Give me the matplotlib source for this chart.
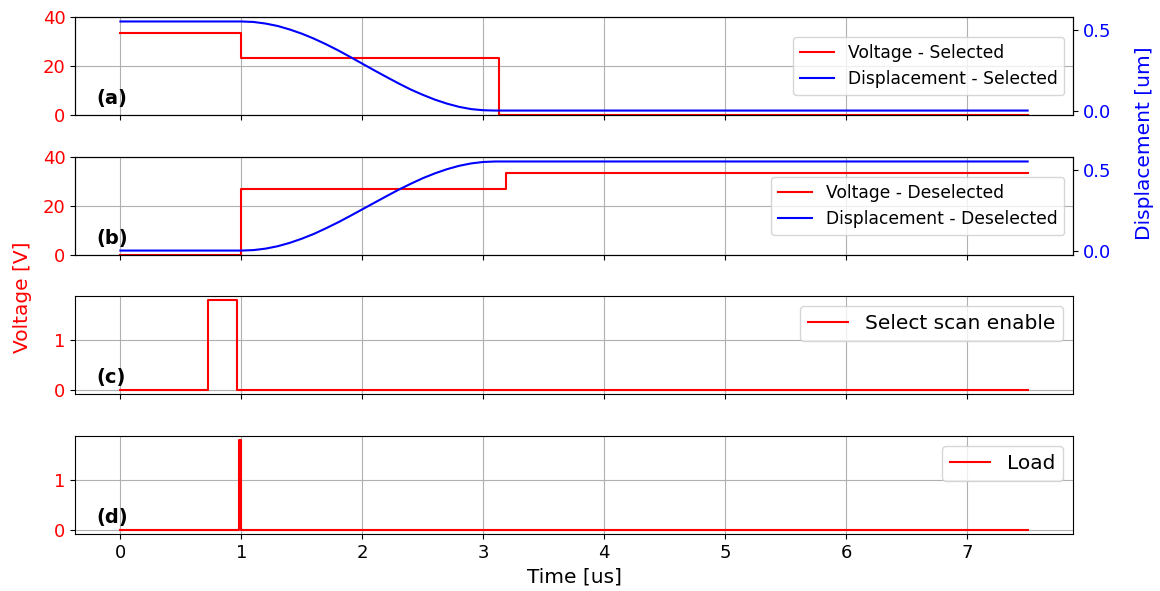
import matplotlib
matplotlib.use("Agg")
import matplotlib.pyplot as plt
from matplotlib.ticker import MultipleLocator

# ---- data -------------------------------------------------------------
# step-wise drive voltages (value holds until the next time point)
t_v_sel = [0.0, 1.0, 3.13, 7.5]
v_sel = [33.5, 23.3, 0.0, 0.0]

t_v_desel = [0.0, 1.0, 3.19, 7.5]
v_desel = [0.0, 27.0, 33.5, 33.5]

t_scan = [0.0, 0.72, 0.96, 7.5]
v_scan = [0.0, 1.8, 0.0, 0.0]

t_load = [0.0, 0.98, 1.0, 7.5]
v_load = [0.0, 1.8, 0.0, 0.0]

# mechanical displacement of the selected / deselected element [um]
t_disp = [0.0, 1.0, 1.1, 1.2, 1.3, 1.4, 1.5, 1.6, 1.7, 1.8, 1.9, 2.0,
          2.1, 2.2, 2.3, 2.4, 2.5, 2.6, 2.7, 2.8, 2.9, 3.0, 3.1, 7.5]
d_sel = [0.555, 0.555, 0.552, 0.542, 0.527, 0.505, 0.479, 0.448, 0.413,
         0.375, 0.334, 0.292, 0.250, 0.209, 0.169, 0.131, 0.098, 0.068,
         0.043, 0.023, 0.009, 0.002, 0.000, 0.000]
d_desel = [0.000, 0.000, 0.003, 0.012, 0.027, 0.048, 0.074, 0.104, 0.139,
           0.176, 0.216, 0.257, 0.298, 0.339, 0.379, 0.416, 0.451, 0.481,
           0.507, 0.528, 0.543, 0.552, 0.555, 0.555]

panel_tags = ["(a)", "(b)", "(c)", "(d)"]

# ---- figure -------------------------------------------------------------
fig = plt.figure(figsize=(11.6, 5.91), dpi=100)

left, width, height = 0.0647, 0.8603, 0.1658
bottoms = [0.8054, 0.5685, 0.3333, 0.0964]
axes = []
for i, b in enumerate(bottoms):
    ax = fig.add_axes([left, b, width, height],
                      sharex=axes[0] if axes else None)
    axes.append(ax)

TICK_FS = 13
LABEL_FS = 14.5
VCOL = "red"
DCOL = "blue"


def style_left(ax):
    ax.grid(True)
    ax.tick_params(axis="y", labelcolor=VCOL, labelsize=TICK_FS)
    ax.tick_params(axis="x", labelsize=TICK_FS)


# (a) selected element
ax = axes[0]
l1, = ax.plot(t_v_sel, v_sel, color=VCOL, drawstyle="steps-post",
              label="Voltage - Selected")
ax.set_ylim(0, 40)
ax.yaxis.set_major_locator(MultipleLocator(20))
style_left(ax)
tw = ax.twinx()
l2, = tw.plot(t_disp, d_sel, color=DCOL, label="Displacement - Selected")
tw.yaxis.set_major_locator(MultipleLocator(0.5))
tw.tick_params(axis="y", labelcolor=DCOL, labelsize=TICK_FS)
tw.legend(handles=[l1, l2], loc="center right", fontsize=12.3)

# (b) deselected element
ax = axes[1]
l1, = ax.plot(t_v_desel, v_desel, color=VCOL, drawstyle="steps-post",
              label="Voltage - Deselected")
ax.set_ylim(0, 40)
ax.yaxis.set_major_locator(MultipleLocator(20))
style_left(ax)
tw = ax.twinx()
l2, = tw.plot(t_disp, d_desel, color=DCOL,
              label="Displacement - Deselected")
tw.yaxis.set_major_locator(MultipleLocator(0.5))
tw.tick_params(axis="y", labelcolor=DCOL, labelsize=TICK_FS)
tw.legend(handles=[l1, l2], loc="center right", fontsize=12.3)

# (c) select scan enable
ax = axes[2]
ax.plot(t_scan, v_scan, color=VCOL, drawstyle="steps-post",
        label="Select scan enable")
ax.yaxis.set_major_locator(MultipleLocator(1))
style_left(ax)
ax.legend(loc="upper right", fontsize=14.5)

# (d) load
ax = axes[3]
ax.plot(t_load, v_load, color=VCOL, drawstyle="steps-post", label="Load")
ax.yaxis.set_major_locator(MultipleLocator(1))
style_left(ax)
ax.legend(loc="upper right", fontsize=14.5)

for ax, tag in zip(axes, panel_tags):
    ax.text(0.021, 0.17, tag, transform=ax.transAxes, fontsize=14,
            fontweight="bold", ha="left", va="center")

for ax in axes[:-1]:
    ax.tick_params(axis="x", labelbottom=False)

axes[-1].set_xlabel("Time [us]", fontsize=LABEL_FS)
fig.text(0.019, 0.497, "Voltage [V]", color=VCOL, fontsize=LABEL_FS,
         rotation=90, ha="center", va="center")
fig.text(0.987, 0.758, "Displacement [um]", color=DCOL, fontsize=LABEL_FS,
         rotation=90, ha="center", va="center")

fig.savefig("out.png", dpi=100)
